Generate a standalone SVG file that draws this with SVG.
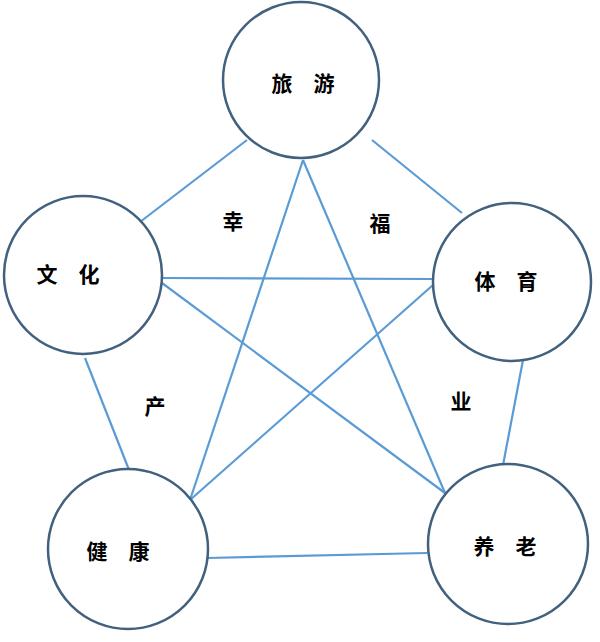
<svg xmlns="http://www.w3.org/2000/svg" width="600" height="642" viewBox="0 0 600 642">
<style>
.n{fill:#fff;stroke:#41617f;stroke-width:2.5}
.c line{stroke:#5b9bd5;stroke-width:2.2}
text{font-family:"Noto Sans CJK SC",sans-serif;font-size:21px;font-weight:bold;fill:#000;text-anchor:middle;dominant-baseline:central}
</style>
<rect width="600" height="642" fill="#fff"/>
<g class="c" id="connectors">
<line x1="247" y1="140" x2="140" y2="222"/>
<line x1="372" y1="140" x2="462" y2="213"/>
<line x1="85" y1="358" x2="133" y2="480"/>
<line x1="523" y1="360" x2="500" y2="481"/>
<line x1="207" y1="558" x2="427" y2="553"/>
<line x1="303" y1="160" x2="190" y2="500"/>
<line x1="303" y1="160" x2="445" y2="493"/>
<line x1="162" y1="278" x2="433" y2="279"/>
<line x1="162" y1="283" x2="445" y2="493"/>
<line x1="433" y1="285" x2="190" y2="500"/>
</g>
<g id="lvyou"><circle class="n" cx="301" cy="80" r="78"/><text x="303" y="82">旅　游</text></g>
<g id="wenhua"><circle class="n" cx="83" cy="275" r="79"/><text x="68" y="273">文　化</text></g>
<g id="tiyu"><circle class="n" cx="512" cy="282" r="79"/><text x="506" y="280">体　育</text></g>
<g id="jiankang"><circle class="n" cx="128" cy="549" r="80"/><text x="118" y="550">健　康</text></g>
<g id="yanglao"><circle class="n" cx="508" cy="544" r="80"/><text x="505" y="545">养　老</text></g>
<g id="labels">
<text x="233" y="220">幸</text><text x="380" y="222">福</text>
<text x="155" y="405">产</text><text x="461" y="400">业</text>
</g>
</svg>
